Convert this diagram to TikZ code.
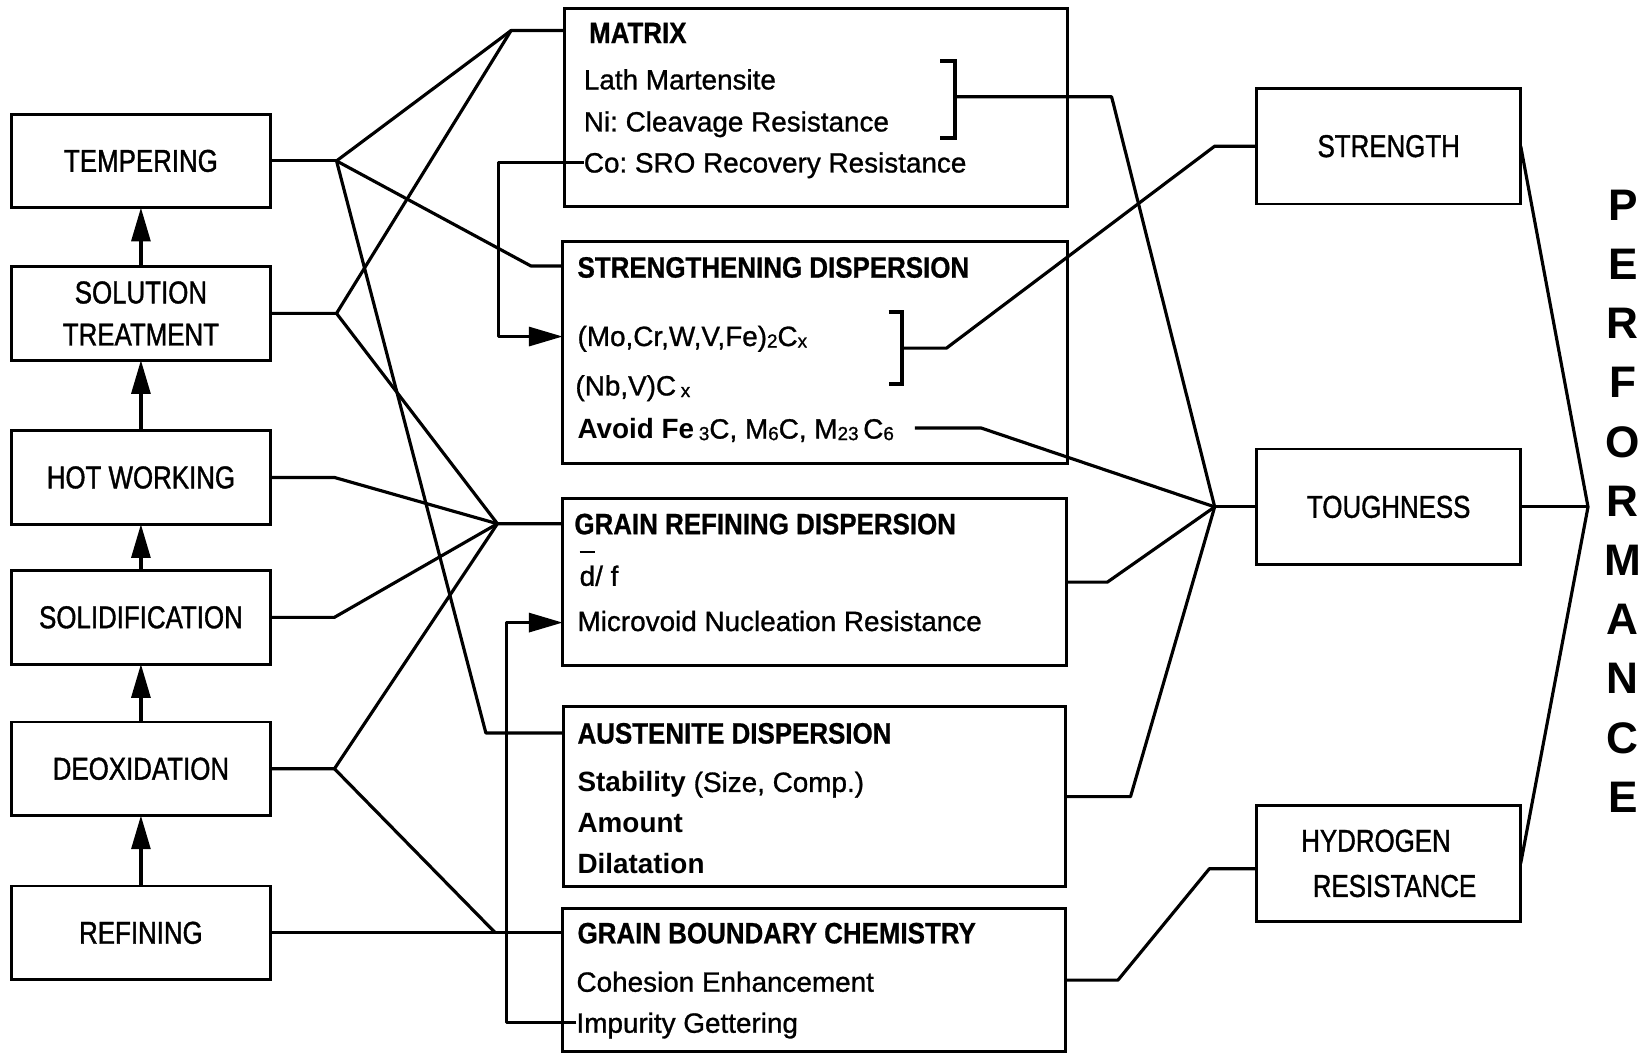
\documentclass[tikz,border=0pt]{standalone}
\usepackage{fontspec}
\setmainfont{Liberation Sans}[UprightFeatures={FakeBold=1.0}]
\newfontfamily\cnd{Liberation Sans}[FakeStretch=0.82,UprightFeatures={FakeBold=1.2}]
\newfontfamily\cndb{Liberation Sans}[FakeStretch=0.88,BoldFeatures={FakeBold=0.8}]
\usetikzlibrary{arrows.meta,calc}
\frenchspacing
\newcommand\sbx[1]{\raisebox{-1.5pt}{\fontsize{18}{18}\selectfont #1}}
\newcommand\dbar{\setbox0\hbox{d}\rlap{\raisebox{31pt}{\rule{\wd0}{1.8pt}}}d}
\begin{document}
\begin{tikzpicture}[x=1pt,y=-1pt,
 box/.style={draw,line width=2.7pt,inner sep=0pt,outer sep=0pt},
 lbox/.style={box,minimum width=246pt,minimum height=89pt,align=center,font=\cnd\fontsize{30}{40}\selectfont},
 rbox/.style={box,minimum width=251pt,minimum height=110pt,align=center,font=\cnd\fontsize{30}{43}\selectfont},
 mbox/.style={box},
 ttl/.style={anchor=base west,inner sep=0pt,font=\cndb\bfseries\fontsize{28}{30}\selectfont},
 itm/.style={anchor=base west,inner sep=0pt,font=\fontsize{26.5}{30}\selectfont},
 con/.style={line width=3pt,line join=round},
 brk/.style={line width=3.8pt,line join=miter},
 arr/.style={con,-{Triangle[length=32pt,width=18pt]}},
 perfl/.style={font=\bfseries\fontsize{42}{56.3}\selectfont,align=center,inner sep=0pt}]
\useasboundingbox (0,0) rectangle (1568,1003);

% left column
\node[lbox] (temp)  at (134,153) {TEMPERING};
\node[lbox] (sol)   at (134,298) {SOLUTION\\TREATMENT};
\node[lbox] (hot)   at (134,454) {HOT WORKING};
\node[lbox] (solid) at (134,587) {SOLIDIFICATION};
\node[lbox] (deox)  at (134,731) {DEOXIDATION};
\node[lbox] (ref)   at (134,887) {REFINING};

\draw[arr] (sol.north) -- (temp.south);
\draw[arr] (hot.north) -- (sol.south);
\draw[arr] (solid.north) -- (hot.south);
\draw[arr] (deox.north) -- (solid.south);
\draw[arr] (ref.north) -- (deox.south);

% middle column boxes
\node[mbox,minimum width=478pt,minimum height=188pt] (matrix) at (776,102) {};
\node[mbox,minimum width=480pt,minimum height=211pt] (sd) at (775,335.5) {};
\node[mbox,minimum width=479pt,minimum height=159pt] (grd) at (774.5,553.5) {};
\node[mbox,minimum width=477pt,minimum height=171pt] (ad) at (774.5,757.5) {};
\node[mbox,minimum width=478pt,minimum height=136pt] (gbc) at (774,932) {};

\node[ttl] (mxt) at (560,41) {MATRIX};
\node[itm] (mx1) at (555,85) {Lath Martensite};
\node[itm] (mx2) at (555,125) {Ni: Cleavage Resistance};
\node[itm] (co)  at (555,164) {Co: SRO Recovery Resistance};

\node[ttl] (sdt) at (549,264) {STRENGTHENING DISPERSION};
\node[itm] (mo)  at (549,329) {(Mo,Cr,W,V,Fe)\sbx{2}C\sbx{x}};
\node[itm] (nb)  at (547,376) {(Nb,V)C\,\sbx{x}};
\node[itm] (avo) at (549,417) {\textbf{Avoid Fe}\,\sbx{3}C, M\sbx{6}C, M\sbx{23}\,C\sbx{6}};

\node[ttl] (grdt) at (546,508) {GRAIN REFINING DISPERSION};
\node[itm] (df)   at (551,557) {\dbar/ f};
\node[itm] (mic)  at (549,600) {Microvoid Nucleation Resistance};

\node[ttl] (adt) at (549,707) {AUSTENITE DISPERSION};
\node[itm] (ad1) at (549,753) {\textbf{Stability} (Size, Comp.)};
\node[itm] (ad2) at (549,792) {\textbf{Amount}};
\node[itm] (ad3) at (549,831) {\textbf{Dilatation}};

\node[ttl] (gbct) at (549,897) {GRAIN BOUNDARY CHEMISTRY};
\node[itm] (coh)  at (548,943) {Cohesion Enhancement};
\node[itm] (imp)  at (548,982) {Impurity Gettering};

% right column
\node[rbox] (str) at (1320.5,139) {STRENGTH};
\node[rbox] (tou) at (1320.5,482) {TOUGHNESS};
\node[rbox,align=left] (hyd) at (1320.5,821) {HYDROGEN\\\hspace*{11pt}RESISTANCE};

\node[perfl] (perftxt) at (1543,476.5) {P\\E\\R\\F\\O\\R\\M\\A\\N\\C\\E};

% junctions
\coordinate (T)  at (320,153);
\coordinate (ST) at (320,298);
\coordinate (HJ) at (318,454);
\coordinate (SJ) at (318,587);
\coordinate (DJ) at (318,731);
\coordinate (M)  at (486,29);
\coordinate (S)  at (505,253);
\coordinate (G)  at (473,498);
\coordinate (A)  at (462,697);
\coordinate (R)  at (471,887);
\coordinate (TJ) at (1155,482);
\coordinate (PJ) at (1510,482);
\coordinate (fa) at (474,320);
\coordinate (fb) at (482,592);
\coordinate (mbr) at (908,92);
\coordinate (sbr) at (858,331);
\coordinate (avl) at (870,407);

% left connections
\draw[con] (temp.east) -- (T);
\draw[con] (T) -- (M) -- (M -| matrix.west);
\draw[con] (T) -- (S) -- (S -| sd.west);
\draw[con] (T) -- (A) -- (A -| ad.west);
\draw[con] (sol.east) -- (ST) -- (M);
\draw[con] (ST) -- (G) -- (G -| grd.west);
\draw[con] (hot.east) -- (HJ) -- (G);
\draw[con] (solid.east) -- (SJ) -- (G);
\draw[con] (deox.east) -- (DJ) -- (G);
\draw[con] (DJ) -- (R);
\draw[con] (ref.east) -- (R -| gbc.west);

% feedback arrows
\draw[arr] ([yshift=3pt]co.west) -| (fa) -- (fa -| sd.west);
\draw[arr] ([yshift=3pt]imp.west) -| (fb) -- (fb -| grd.west);

% brackets
\draw[brk] (894,58) -- (908,58) -- (908,131) -- (894,131);
\draw[brk] (845,297) -- (858,297) -- (858,365) -- (845,365);

% right connections
\draw[con] (mbr) -- (1057,92) -- (TJ);
\draw[con] (sbr) -- (900,331) -- (1155,139) -- (str.west);
\draw[con] (avl) -- (933,407) -- (TJ);
\draw[con] (grd.east) -- +(39,0) -- (TJ);
\draw[con] (ad.east) -- +(62,0) -- (TJ);
\draw[con] (TJ) -- (tou.west);
\draw[con] (gbc.east) -- +(50,0) -- (1150,826) -- ([yshift=-5pt]hyd.west);
\draw[con] (str.east) -- (PJ) -- (hyd.east);
\draw[con] (tou.east) -- (PJ);
\end{tikzpicture}
\end{document}
